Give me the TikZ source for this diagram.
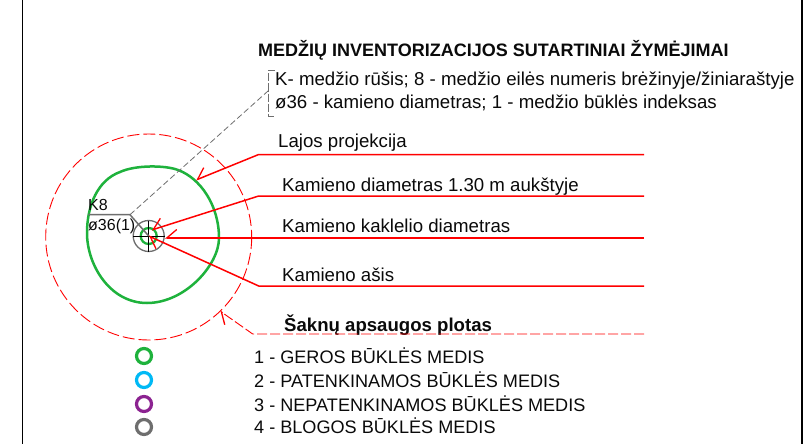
\documentclass[tikz,border=0pt]{standalone}
\usepackage{fontspec}
\setmainfont{Liberation Sans}
\usetikzlibrary{arrows.meta}
\definecolor{grn}{RGB}{30,178,60}
\definecolor{cyn}{RGB}{0,185,245}
\definecolor{prp}{RGB}{140,35,145}
\definecolor{gry}{RGB}{110,110,110}
\definecolor{ink}{RGB}{10,10,10}
\tikzset{
 lbl/.style={inner sep=0pt,anchor=base west,text=ink,font=\fontsize{18.65}{20}\selectfont},
 lblb/.style={lbl,font=\fontsize{18.6}{20}\selectfont\bfseries},
 ttl/.style={lbl,font=\fontsize{18}{20}\selectfont\bfseries},
 leg/.style={lbl,font=\fontsize{18.1}{20}\selectfont},
 small/.style={lbl,font=\fontsize{16}{17}\selectfont},
 leader/.style={red,line width=1.5pt},
 tipl/.style={-{Straight Barb[length=10pt,width=17pt,line width=1.3pt,right]}},
 tipr/.style={-{Straight Barb[length=10pt,width=17pt,line width=1.3pt,left]}},
 ring/.style={circle,draw,line width=3.2pt,minimum size=15pt,inner sep=0pt},
 graydash/.style={gry,line width=.8pt,dash pattern=on 6pt off 3pt},
}
\begin{document}
\begin{tikzpicture}[x=1pt,y=-1pt]
\useasboundingbox (0,0) rectangle (806,444);
\fill[white] (0,0) rectangle (806,444);
\draw[black,line width=.9pt] (22,0) -- (22,444);
\draw[black,line width=1.2pt] (802,0) -- (802,444);
% tree
\coordinate (c) at (148.7,236);
\draw[red,line width=.9pt,dash pattern=on 12pt off 4pt] (148.7,237) circle (103);
\draw[grn,line width=2.5pt] (87,233) .. controls (87,205) and (98,180) .. (120,172) .. controls (135,165) and (165,165) .. (178,170) .. controls (200,178) and (219,205) .. (219,238) .. controls (219,265) and (185,303) .. (147,303) .. controls (110,303) and (87,265) .. (87,233) -- cycle;
\draw[gry,line width=1.3pt] (c) circle (15.5);
\draw[grn,line width=2.3pt] (c) circle (8);
\draw[black,line width=.7pt] (133,236) -- (164.5,236) (148.7,220.5) -- (148.7,251.5);
% K8 leader
\coordinate (kl) at (88.3,214.7);
\coordinate (kb) at (130,214.7);
\coordinate (br) at (268,91);
\draw[gry,line width=1.5pt] (kl) -- (kb) -- (c);
\draw[graydash] (kb) -- (br);
\draw[gry,line width=.6pt,dash pattern=on 8pt off 2pt] (275,70) -- (268.5,70) -- (268.5,116) -- (275,116);
\node[small] (k8) at (88,210.7) {K8};
\node[small] (d36) at (88,230) {ø36(1)};
% title
\node[ttl] (title) at (258,57) {MEDŽIŲ INVENTORIZACIJOS SUTARTINIAI ŽYMĖJIMAI};
\node[lbl] (t1) at (275,85) {K- medžio rūšis; 8 - medžio eilės numeris brėžinyje/žiniaraštyje};
\node[lbl] (t2) at (275,108) {ø36 - kamieno diametras; 1 - medžio būklės indeksas};
% callouts
\node[lbl] (l1) at (278,147) {Lajos projekcija};
\node[lbl] (l2) at (282,191) {Kamieno diametras 1.30 m aukštyje};
\node[lbl] (l3) at (282,232) {Kamieno kaklelio diametras};
\node[lbl] (l4) at (282,281) {Kamieno ašis};
\node[lblb] (l5) at (284,331) {Šaknų apsaugos plotas};
\coordinate (e1) at (644,154.5); \coordinate (b1) at (258.7,154.5); \coordinate (a1) at (196,180);
\coordinate (e2) at (644,196); \coordinate (b2) at (258.7,196); \coordinate (a2) at (151.7,230);
\coordinate (e3) at (644,238); \coordinate (a3) at (165,238);
\coordinate (e4) at (644,286); \coordinate (b4) at (258.7,286); \coordinate (a4) at (148.7,236);
\coordinate (e5) at (644,334); \coordinate (b5) at (252.7,334); \coordinate (a5) at (220,311);
\draw[leader,tipl] (e1) -- (b1) -- (a1);
\draw[leader,tipl] (e2) -- (b2) -- (a2);
\draw[leader,tipl] (e3) -- (a3);
\draw[leader,tipr] (e4) -- (b4) -- (a4);
\draw[red,line width=.9pt,dash pattern=on 10pt off 3pt,tipr] (e5) -- (b5) -- (a5);
% legend
\node[ring,draw=grn] (r1) at (144,356) {};
\node[ring,draw=cyn] (r2) at (144,380) {};
\node[ring,draw=prp] (r3) at (144,404) {};
\node[ring,draw=gry] (r4) at (144,427) {};
\node[leg] (g1) at (254,363) {1 - GEROS BŪKLĖS MEDIS};
\node[leg] (g2) at (254,387) {2 - PATENKINAMOS BŪKLĖS MEDIS};
\node[leg] (g3) at (254,411) {3 - NEPATENKINAMOS BŪKLĖS MEDIS};
\node[leg] (g4) at (254,433) {4 - BLOGOS BŪKLĖS MEDIS};
\end{tikzpicture}
\end{document}
